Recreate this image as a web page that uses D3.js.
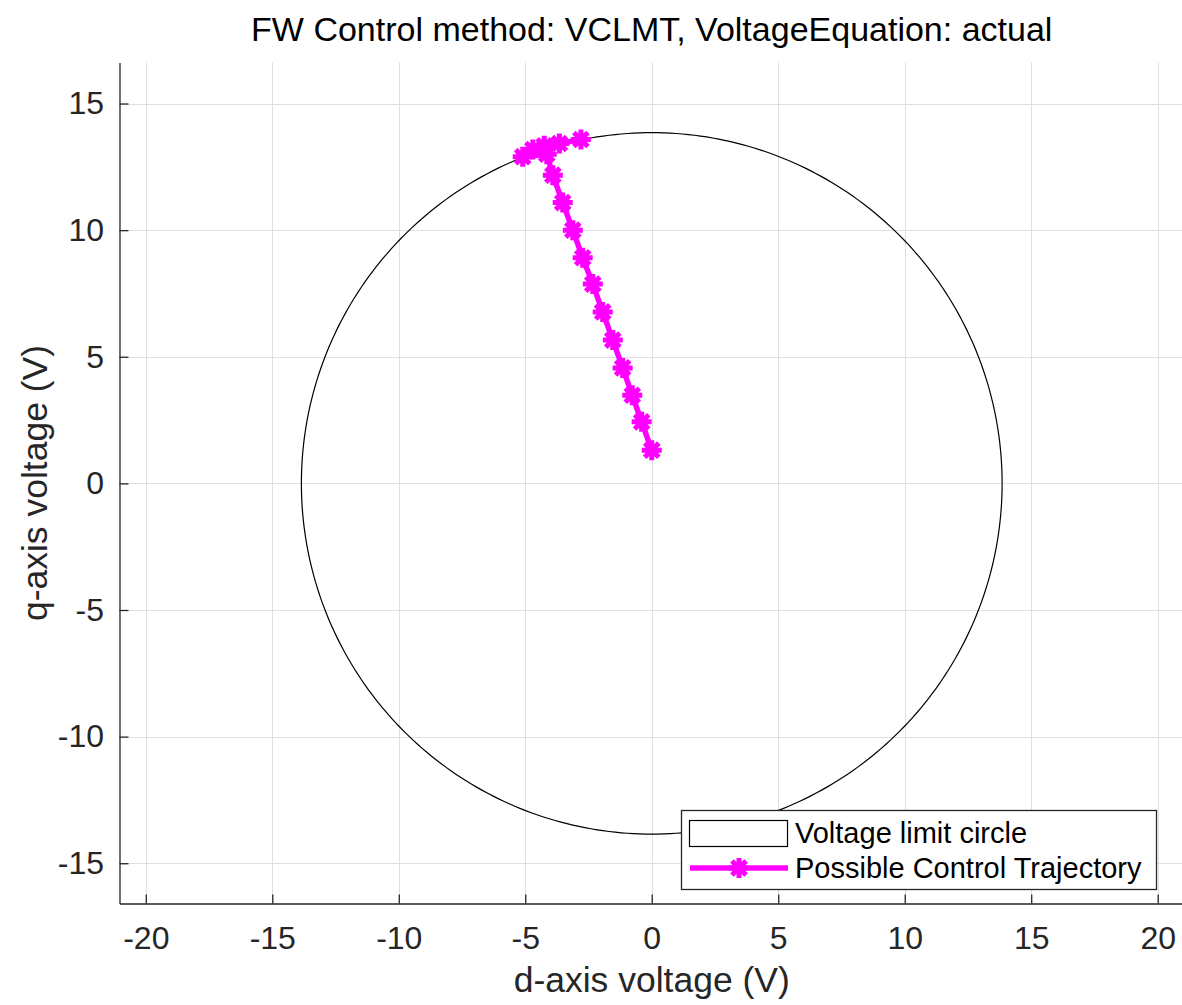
<!DOCTYPE html>
<html>
<head>
<meta charset="utf-8">
<script src="https://cdn.jsdelivr.net/npm/d3@7"></script>
<style>
  html, body { margin: 0; padding: 0; background: #fff; }
  svg { display: block; font-family: "Liberation Sans", Arial, Helvetica, sans-serif; }
</style>
</head>
<body>
<svg id="chart" width="1182" height="1005"></svg>
<script>
// Voltage limit circle radius (V)
const circleRadius = [13.85];

// Possible control trajectory in the d-q voltage plane (V)
const trajD = [0.00, -0.40, -0.77, -1.15, -1.54, -1.94, -2.33, -2.73, -3.12, -3.52, -3.91,
               -4.15, -5.10, -4.70, -4.25, -3.65, -2.80];
const trajQ = [1.31, 2.43, 3.48, 4.56, 5.66, 6.77, 7.87, 8.91, 10.00, 11.09, 12.17,
               13.00, 12.90, 13.18, 13.33, 13.42, 13.58];

// Axis ticks
const xTicks = [-20, -15, -10, -5, 0, 5, 10, 15, 20];
const yTicks = [-15, -10, -5, 0, 5, 10, 15];

const titleText = "FW Control method: VCLMT, VoltageEquation: actual";
const xLabel = "d-axis voltage (V)";
const yLabel = "q-axis voltage (V)";
const legendLabels = ["Voltage limit circle", "Possible Control Trajectory"];

const ink = "#262626";
const magenta = "#ff00ff";
const tickFont = 32;

const svg = d3.select("#chart");

const x = d3.scaleLinear().domain([-21.04, 21.04]).range([119.5, 1184]);
const y = d3.scaleLinear().domain([-16.59, 16.62]).range([903.5, 62.5]);

// grid
const grid = svg.append("g").attr("stroke", "#dfdfdf").attr("stroke-width", 1);
grid.selectAll("line.vx").data(xTicks).join("line")
  .attr("x1", d => Math.round(x(d)) + 0.5).attr("x2", d => Math.round(x(d)) + 0.5)
  .attr("y1", y.range()[1]).attr("y2", y.range()[0]);
grid.selectAll("line.hy").data(yTicks).join("line")
  .attr("y1", d => Math.round(y(d)) + 0.5).attr("y2", d => Math.round(y(d)) + 0.5)
  .attr("x1", x.range()[0]).attr("x2", x.range()[1]);

// voltage limit circle
const angles = d3.range(0, 361, 1).map(a => a * Math.PI / 180);
svg.append("path")
  .datum(angles)
  .attr("fill", "none")
  .attr("stroke", "#000")
  .attr("stroke-width", 1.2)
  .attr("d", d3.line()
    .x(a => x(circleRadius[0] * Math.cos(a)))
    .y(a => y(circleRadius[0] * Math.sin(a))));

// trajectory line
const traj = trajD.map((d, i) => [d, trajQ[i]]);
svg.append("path")
  .datum(traj)
  .attr("fill", "none")
  .attr("stroke", magenta)
  .attr("stroke-width", 5.5)
  .attr("stroke-linejoin", "round")
  .attr("d", d3.line().x(p => x(p[0])).y(p => y(p[1])));

// asterisk marker
function asterisk(g, r) {
  const a = r * Math.SQRT1_2;
  g.append("path")
    .attr("d", `M${-r},0L${r},0M0,${-r}L0,${r}M${-a},${-a}L${a},${a}M${-a},${a}L${a},${-a}`)
    .attr("stroke", magenta)
    .attr("stroke-width", 5)
    .attr("fill", "none");
}
svg.append("g").selectAll("g").data(traj).join("g")
  .attr("transform", p => `translate(${x(p[0])},${y(p[1])})`)
  .each(function () { asterisk(d3.select(this), 10); });

// axes (ticks pointing inward), plain hyphen for negatives
const fmt = d => String(d);
const xAxis = svg.append("g")
  .attr("transform", `translate(0,${y.range()[0]})`)
  .call(d3.axisBottom(x).tickValues(xTicks).tickFormat(fmt)
    .tickSizeInner(-9).tickSizeOuter(0).tickPadding(22.8));
const yAxis = svg.append("g")
  .attr("transform", `translate(${x.range()[0]},0)`)
  .call(d3.axisLeft(y).tickValues(yTicks).tickFormat(fmt)
    .tickSizeInner(-9).tickSizeOuter(0).tickPadding(15.5));
[xAxis, yAxis].forEach(ax => {
  ax.select(".domain").attr("stroke", ink).attr("stroke-width", 1.3);
  ax.selectAll(".tick line").attr("stroke", ink).attr("stroke-width", 1.3);
  ax.selectAll(".tick text").attr("fill", ink)
    .style("font-family", "'Liberation Sans', Arial, sans-serif").style("font-size", tickFont + "px");
});

// labels
svg.append("text")
  .attr("x", (x.range()[0] + x.range()[1]) / 2).attr("y", 41)
  .attr("text-anchor", "middle").attr("fill", "#000")
  .style("font-size", "34px").text(titleText);
svg.append("text")
  .attr("x", (x.range()[0] + x.range()[1]) / 2).attr("y", 992)
  .attr("text-anchor", "middle").attr("fill", ink)
  .style("font-size", "35.5px").text(xLabel);
svg.append("text")
  .attr("transform", `translate(47,${(y.range()[0] + y.range()[1]) / 2}) rotate(-90)`)
  .attr("text-anchor", "middle").attr("fill", ink)
  .style("font-size", "35.5px").text(yLabel);

// legend
const lg = svg.append("g");
lg.append("rect")
  .attr("x", 681.5).attr("y", 810.5).attr("width", 475).attr("height", 79)
  .attr("fill", "#fff").attr("stroke", ink).attr("stroke-width", 1.3);
lg.append("rect")
  .attr("x", 689.5).attr("y", 820.5).attr("width", 98).attr("height", 26)
  .attr("fill", "none").attr("stroke", "#000").attr("stroke-width", 1.2);
lg.append("line")
  .attr("x1", 690).attr("x2", 788).attr("y1", 868).attr("y2", 868)
  .attr("stroke", magenta).attr("stroke-width", 5.5);
asterisk(lg.append("g").attr("transform", "translate(739,868)"), 10);
lg.selectAll("text.lab").data(legendLabels).join("text")
  .attr("x", 795).attr("y", (d, i) => 843 + i * 35)
  .attr("fill", "#000").style("font-size", "29px")
  .text(d => d);
</script>
</body>
</html>
